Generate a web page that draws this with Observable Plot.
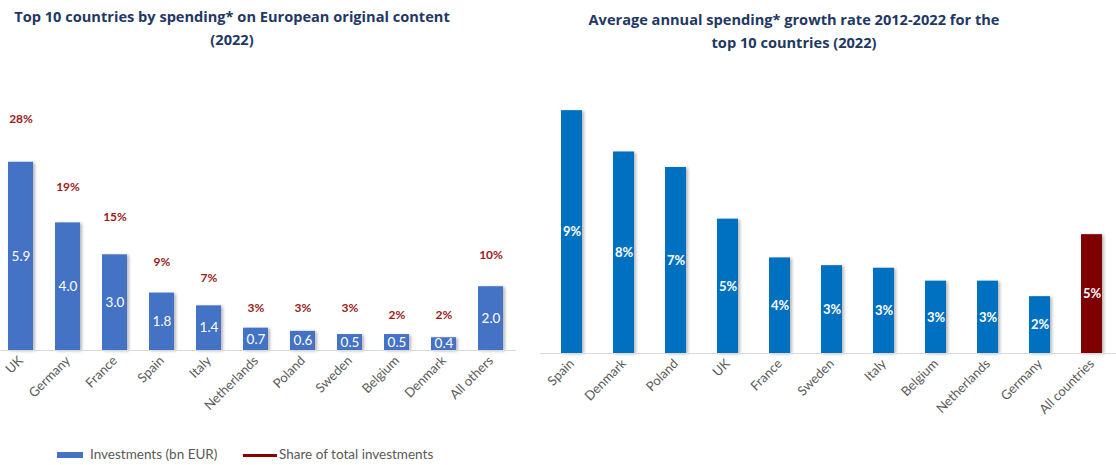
<!DOCTYPE html>
<html>
<head>
<meta charset="utf-8">
<script src="https://cdn.jsdelivr.net/npm/d3@7"></script>
<script src="https://cdn.jsdelivr.net/npm/@observablehq/plot@0.6"></script>
<style>
  html, body { margin: 0; padding: 0; background: #fff; }
  #wrap { position: relative; width: 1116px; height: 465px; overflow: hidden; font-family: Lato, "Open Sans", sans-serif; }
  .title { position: absolute; text-align: center; font-family: "Open Sans", sans-serif; font-weight: 700; font-size: 14.6px; color: #1f3864; line-height: 23px; white-space: nowrap; }
  .panel { position: absolute; top: 0; }
  .legend { position: absolute; top: 446px; left: 0; font-size: 13.5px; color: #595959; font-family: Lato, sans-serif; }
  .legend span { position: absolute; white-space: nowrap; }
  g[aria-label="bar"] rect { filter: drop-shadow(2px 1px 1.5px rgba(0,0,0,0.28)); }
</style>
</head>
<body>
<div id="wrap">
  <div class="title" style="left:0;width:464px;top:5px;">Top 10 countries by spending* on European original content<br>(2022)</div>
  <div class="title" style="left:560px;width:468px;top:8px;">Average annual spending* growth rate 2012-2022 for the<br>top 10 countries (2022)</div>
  <div class="panel" id="left" style="left:0;"></div>
  <div class="panel" id="right" style="left:540px;"></div>
  <div class="legend">
    <span style="left:57px;top:6px;width:26px;height:6px;background:#4472c4;"></span>
    <span style="left:90px;top:0px;">Investments (bn EUR)</span>
    <span style="left:243px;top:7.5px;width:34px;height:3px;background:#8b0000;"></span>
    <span style="left:279px;top:0px;">Share of total investments</span>
  </div>
</div>
<script>
// ---- Left chart data ----
const leftCountries = ["UK","Germany","France","Spain","Italy","Netherlands","Poland","Sweden","Belgium","Denmark","All others"];
const investments = [5.9, 4.0, 3.0, 1.8, 1.4, 0.7, 0.6, 0.5, 0.5, 0.4, 2.0];
const shares = [28, 19, 15, 9, 7, 3, 3, 3, 2, 2, 10];

// ---- Right chart data ----
const rightCountries = ["Spain","Denmark","Poland","UK","France","Sweden","Italy","Belgium","Netherlands","Germany","All countries"];
const growth = [9.4, 7.8, 7.2, 5.2, 3.7, 3.4, 3.3, 2.8, 2.8, 2.2, 4.6];

const leftData = leftCountries.map((c, i) => ({country: c, value: investments[i], share: shares[i]}));
const rightData = rightCountries.map((c, i) => ({country: c, value: growth[i], total: c === "All countries"}));

const shareMax = 42.3; // secondary axis max mapped onto the primary axis max
const yMaxLeft = 10;

const axisFont = "Lato, 'Open Sans', sans-serif";

const left = Plot.plot({
  width: 516, height: 440,
  marginLeft: 0, marginRight: 0, marginTop: 31, marginBottom: 90,
  style: {fontFamily: axisFont, overflow: "visible"},
  x: {domain: leftCountries, range: [0, 510], paddingInner: 0.47, paddingOuter: 0.127, label: null},
  y: {domain: [0, yMaxLeft], axis: null},
  marks: [
    Plot.barY(leftData, {x: "country", y: "value", fill: "#4472c4"}),
    Plot.ruleY([0], {stroke: "#d9d9d9", strokeWidth: 1.2}),
    Plot.text(leftData, {x: "country", y: d => d.value / 2, text: d => d.value.toFixed(1), fill: "white", fontSize: 13.5}),
    Plot.text(leftData, {x: "country", y: d => d.share * yMaxLeft / shareMax, dy: -20, text: d => d.share + "%", fill: "#9c1a1a", fontWeight: "bold", fontSize: 12}),
    Plot.axisX({tickRotate: -45, tickSize: 0, tickPadding: 8, fontSize: 13, label: null})
  ]
});
left.querySelectorAll('g[aria-label="x-axis tick label"] text').forEach(t => t.setAttribute("fill", "#595959"));
document.getElementById("left").appendChild(left);

const right = Plot.plot({
  width: 576, height: 440,
  marginLeft: 0, marginRight: 0, marginTop: 43, marginBottom: 87,
  style: {fontFamily: axisFont, overflow: "visible"},
  x: {domain: rightCountries, range: [0, 583.5], paddingInner: 0.59, paddingOuter: 0.342, label: null},
  y: {domain: [0, 12], axis: null},
  marks: [
    Plot.barY(rightData, {x: "country", y: "value", fill: d => d.total ? "#7f0000" : "#0070c0"}),
    Plot.ruleY([0], {stroke: "#d9d9d9", strokeWidth: 1.2}),
    Plot.text(rightData, {x: "country", y: d => d.value / 2, text: d => Math.round(d.value) + "%", fill: "white", fontWeight: "bold", fontSize: 13}),
    Plot.axisX({tickRotate: -45, tickSize: 0, tickPadding: 8, fontSize: 13, label: null})
  ]
});
right.querySelectorAll('g[aria-label="x-axis tick label"] text').forEach(t => t.setAttribute("fill", "#595959"));
document.getElementById("right").appendChild(right);
</script>
</body>
</html>
